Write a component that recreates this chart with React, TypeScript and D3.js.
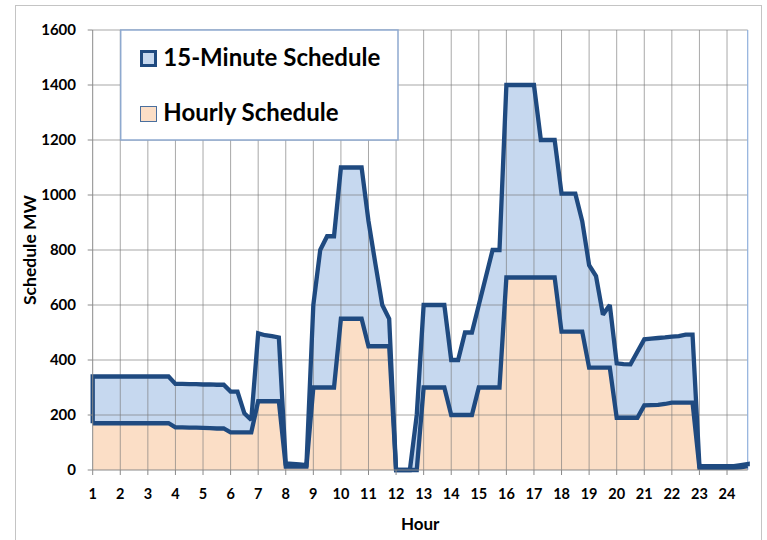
import React from 'react';
import * as d3 from 'd3';

// quarter-hour schedule values, hour 1:00 to 24:45 (96 points each)
const quarterHourMW = [
  340, 340, 340, 340, 340, 340, 340, 340, 340, 340, 340, 340,
  313, 313, 312, 312, 311, 311, 310, 310,
  285, 285, 206, 182,
  497, 490, 487, 482,
  24, 22, 20, 18,
  600, 800, 850, 850,
  1100, 1100, 1100, 1100,
  905, 750, 600, 550,
  0, 0, 0, 200,
  600, 600, 600, 600,
  400, 400, 500, 500,
  600, 700, 800, 800,
  1400, 1400, 1400, 1400,
  1400, 1200, 1200, 1200,
  1005, 1005, 1005, 905,
  745, 705, 565, 600,
  388, 385, 384, 430,
  475, 478, 480, 482,
  485, 487, 492, 492,
  14, 14, 14, 14,
  14, 14, 18, 22,
];

const hourlyMW = [
  170, 170, 170, 170, 170, 170, 170, 170, 170, 170, 170, 170,
  155, 155, 154, 154, 153, 152, 151, 151,
  137, 137, 137, 137,
  250, 250, 250, 250,
  12, 12, 12, 12,
  300, 300, 300, 300,
  550, 550, 550, 550,
  450, 450, 450, 450,
  0, 0, 0, 0,
  300, 300, 300, 300,
  200, 200, 200, 200,
  300, 300, 300, 300,
  700, 700, 700, 700, 700, 700, 700, 700,
  503, 503, 503, 503,
  372, 372, 372, 372,
  190, 190, 190, 190,
  235, 236, 237, 240,
  245, 245, 245, 245,
  8, 8, 8, 8, 8, 8, 10, 14,
];

const hours = d3.range(quarterHourMW.length).map((i) => 1 + i / 4);
const hourTicks = d3.range(1, 25);
const mwTicks = [0, 200, 400, 600, 800, 1000, 1200, 1400, 1600];

const lineColor = '#1f4a80';
const blueFill = '#c6d8ef';
const peachFill = '#fbdec6';
const font = 'Lato, "Open Sans", sans-serif';

export default function App() {
  const x = d3.scaleLinear().domain([1, hours[hours.length - 1]]).range([92.7, 747.7]);
  const y = d3.scaleLinear().domain([0, 1600]).range([470, 30]);

  const area = d3.area<[number, number]>()
    .x((d) => x(d[0]))
    .y0(y(0))
    .y1((d) => y(d[1]));
  const line = d3.line<[number, number]>()
    .x((d) => x(d[0]))
    .y((d) => y(d[1]));

  const q: [number, number][] = hours.map((h, i) => [h, quarterHourMW[i]]);
  const hr: [number, number][] = hours.map((h, i) => [h, hourlyMW[i]]);
  const last = hours.length - 1;
  // 15-minute outline closes down to the hourly area at both ends
  const qOutline: [number, number][] = [[hours[0], hourlyMW[0]], ...q, [hours[last], hourlyMW[last]]];

  const [xl, xr] = x.range();
  const [yb, yt] = y.range();

  return (
    <svg width={767} height={540} style={{ position: 'absolute', left: 0, top: 0, background: '#fff' }}>
      <rect x={15.5} y={5.5} width={746} height={540} fill="#fff" stroke="#c4c4c4" />

      <path d={area(q) || ''} fill={blueFill} />
      <path d={area(hr) || ''} fill={peachFill} />

      {mwTicks.slice(1).map((v) => (
        <line key={'h' + v} x1={xl} x2={xr} y1={y(v)} y2={y(v)} stroke="#7a7a7a" strokeOpacity={0.65} />
      ))}
      {hourTicks.slice(1).map((h) => (
        <line key={'v' + h} x1={x(h)} x2={x(h)} y1={yt} y2={yb} stroke="#7a7a7a" strokeOpacity={0.65} />
      ))}
      <line x1={xr} x2={xr} y1={yt} y2={yb} stroke="#8fb0dc" strokeWidth={1.2} />

      <path d={line(hr) || ''} fill="none" stroke={lineColor} strokeWidth={4.3} strokeLinejoin="miter" strokeMiterlimit={2} />
      <path d={line(qOutline) || ''} fill="none" stroke={lineColor} strokeWidth={4.3} strokeLinejoin="miter" strokeMiterlimit={2} />

      {/* axes */}
      <line x1={xl} x2={xl} y1={yt} y2={yb} stroke="#8a8a8a" />
      <line x1={xl} x2={xr} y1={yb} y2={yb} stroke="#8a8a8a" />
      {mwTicks.map((v) => (
        <g key={'yt' + v}>
          <line x1={xl - 5} x2={xl} y1={y(v)} y2={y(v)} stroke="#8a8a8a" />
          <text x={76} y={y(v) + 5} textAnchor="end" fontFamily={font} fontWeight="bold" fontSize={15} fill="#000">
            {v}
          </text>
        </g>
      ))}
      {hourTicks.map((h) => (
        <g key={'xt' + h}>
          <line x1={x(h)} x2={x(h)} y1={yb} y2={yb + 5} stroke="#8a8a8a" />
          <text x={x(h)} y={499} textAnchor="middle" fontFamily={font} fontWeight="bold" fontSize={14.5} fill="#000">
            {h}
          </text>
        </g>
      ))}
      <text x={(xl + xr) / 2} y={530} textAnchor="middle" fontFamily={font} fontWeight="bold" fontSize={17}>
        Hour
      </text>
      <text transform={`translate(36,${(yt + yb) / 2}) rotate(-90)`} textAnchor="middle" fontFamily={font} fontWeight="bold" fontSize={17.5}>
        Schedule MW
      </text>

      {/* legend */}
      <rect x={120.7} y={30} width={277.3} height={110} fill="#fff" stroke="#8ea9cf" strokeWidth={1.5} />
      <rect x={141.5} y={51.5} width={14} height={14} fill={blueFill} stroke={lineColor} strokeWidth={3} />
      <text x={163.3} y={66} fontFamily={font} fontWeight="bold" fontSize={24} fill="#000">
        15-Minute Schedule
      </text>
      <rect x={140.5} y={106.5} width={16} height={15} fill={peachFill} stroke="#4a6f9e" strokeWidth={1} />
      <text x={163.3} y={121} fontFamily={font} fontWeight="bold" fontSize={24} fill="#000">
        Hourly Schedule
      </text>
    </svg>
  );
}
